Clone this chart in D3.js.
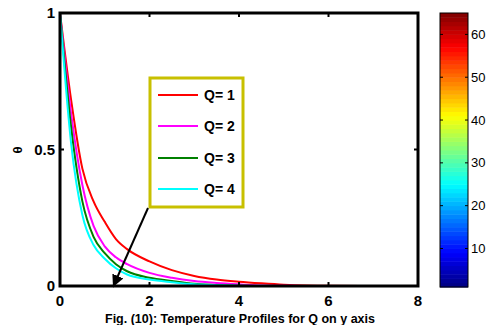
<!DOCTYPE html>
<html>
<head>
<meta charset="utf-8">
<script src="https://cdn.jsdelivr.net/npm/d3@7"></script>
<style>
  body { margin: 0; background: #fff; }
  text { font-family: "Liberation Sans", Arial, sans-serif; }
</style>
</head>
<body>
<svg id="chart" width="487" height="325"></svg>
<script>
// eta positions shared by all curves
const eta = [0, 0.25, 0.5, 0.75, 1, 1.25, 1.5, 2, 2.5, 3, 3.5, 4, 4.5, 5, 5.5, 6, 7, 8];

const seriesNames = ['Q= 1', 'Q= 2', 'Q= 3', 'Q= 4'];
const seriesColors = ['#ff0000', '#ff00ff', '#008000', '#00ffff'];
const theta = [
  [1, 0.68, 0.43, 0.31, 0.235, 0.172, 0.135, 0.09, 0.058, 0.037, 0.024, 0.016, 0.01, 0.005, 0.002, 0.001, 0, 0],
  [1, 0.63, 0.37, 0.22, 0.145, 0.105, 0.08, 0.048, 0.03, 0.018, 0.011, 0.006, 0.002, 0.001, 0, 0, 0, 0],
  [1, 0.58, 0.31, 0.18, 0.12, 0.08, 0.054, 0.03, 0.018, 0.008, 0.004, 0.001, 0, 0, 0, 0, 0, 0],
  [1, 0.52, 0.26, 0.15, 0.1, 0.065, 0.042, 0.024, 0.014, 0.006, 0.003, 0.001, 0, 0, 0, 0, 0, 0]
];

const xTicks = [0, 2, 4, 6, 8];
const yTicks = [0, 0.5, 1];
const yTickLabels = ['0', '0.5', '1'];
const cbarTicks = [10, 20, 30, 40, 50, 60];
const cbarRange = [1, 65];

const svg = d3.select('#chart');

const x = d3.scaleLinear().domain([0, 8]).range([60, 418]);
const y = d3.scaleLinear().domain([0, 1]).range([286, 13]);

// curves
const line = d3.line()
  .x((d) => x(d[0]))
  .y((d) => y(d[1]))
  .curve(d3.curveMonotoneX);

theta.forEach((vals, i) => {
  svg.append('path')
    .datum(eta.map((e, j) => [e, vals[j]]))
    .attr('d', line)
    .attr('fill', 'none')
    .attr('stroke', seriesColors[i])
    .attr('stroke-width', 2);
});

// axes box
svg.append('rect')
  .attr('x', x(0)).attr('y', y(1))
  .attr('width', x(8) - x(0)).attr('height', y(0) - y(1))
  .attr('fill', 'none')
  .attr('stroke', '#000')
  .attr('stroke-width', 3);

// inward ticks
xTicks.forEach((t) => {
  svg.append('line').attr('x1', x(t)).attr('x2', x(t))
    .attr('y1', y(0)).attr('y2', y(0) - 4).attr('stroke', '#000').attr('stroke-width', 2);
  svg.append('line').attr('x1', x(t)).attr('x2', x(t))
    .attr('y1', y(1)).attr('y2', y(1) + 4).attr('stroke', '#000').attr('stroke-width', 2);
  svg.append('text')
    .attr('x', x(t)).attr('y', 306)
    .attr('text-anchor', 'middle')
    .attr('font-size', 15).attr('font-weight', 'bold')
    .text(t);
});

yTicks.forEach((t, i) => {
  svg.append('line').attr('x1', x(0)).attr('x2', x(0) + 4)
    .attr('y1', y(t)).attr('y2', y(t)).attr('stroke', '#000').attr('stroke-width', 2);
  svg.append('line').attr('x1', x(8)).attr('x2', x(8) - 4)
    .attr('y1', y(t)).attr('y2', y(t)).attr('stroke', '#000').attr('stroke-width', 2);
  svg.append('text')
    .attr('x', 55).attr('y', y(t) + 5)
    .attr('text-anchor', 'end')
    .attr('font-size', 15).attr('font-weight', 'bold')
    .text(yTickLabels[i]);
});

// y label
svg.append('text')
  .attr('transform', 'translate(22,150) rotate(-90)')
  .attr('text-anchor', 'middle')
  .attr('font-size', 13).attr('font-weight', 'bold')
  .attr('font-family', 'DejaVu Sans')
  .text('θ');

// caption (sits at the bottom edge, as in the figure)
svg.append('text')
  .attr('x', 240).attr('y', 323)
  .attr('text-anchor', 'middle')
  .attr('font-size', 12.5).attr('font-weight', 'bold')
  .text('Fig. (10): Temperature Profiles for Q on y axis');

// legend
const legend = svg.append('g');
legend.append('rect')
  .attr('x', 150).attr('y', 78).attr('width', 93).attr('height', 129)
  .attr('fill', '#fff')
  .attr('stroke', '#c8c000')
  .attr('stroke-width', 3);
const legendY = [95, 126, 158, 189];
seriesNames.forEach((name, i) => {
  legend.append('line')
    .attr('x1', 158).attr('x2', 198)
    .attr('y1', legendY[i]).attr('y2', legendY[i])
    .attr('stroke', seriesColors[i]).attr('stroke-width', 2);
  legend.append('text')
    .attr('x', 204).attr('y', legendY[i] + 5)
    .attr('font-size', 14).attr('font-weight', 'bold')
    .text(name);
});

// arrow
svg.append('defs').append('marker')
  .attr('id', 'head')
  .attr('viewBox', '0 0 10 10')
  .attr('refX', 10).attr('refY', 5)
  .attr('markerWidth', 12).attr('markerHeight', 12)
  .attr('markerUnits', 'userSpaceOnUse')
  .attr('orient', 'auto')
  .append('path')
  .attr('d', 'M0,0 L10,5 L0,10 Z')
  .attr('fill', '#000');
svg.append('line')
  .attr('x1', 148).attr('y1', 208)
  .attr('x2', 113).attr('y2', 287)
  .attr('stroke', '#000').attr('stroke-width', 2)
  .attr('marker-end', 'url(#head)');

// colorbar (jet)
function jet(t) {
  const r = Math.max(0, Math.min(1, Math.min(4 * t - 1.5, -4 * t + 4.5)));
  const g = Math.max(0, Math.min(1, Math.min(4 * t - 0.5, -4 * t + 3.5)));
  const b = Math.max(0, Math.min(1, Math.min(4 * t + 0.5, -4 * t + 2.5)));
  return d3.rgb(r * 255, g * 255, b * 255).toString();
}
const cy = d3.scaleLinear().domain(cbarRange).range([287, 13]);
const cb = svg.append('g');
const nColors = 64;
d3.range(nColors).forEach((k) => {
  const v0 = cbarRange[0] + k;
  cb.append('rect')
    .attr('x', 440).attr('width', 28)
    .attr('y', cy(v0 + 1)).attr('height', cy(v0) - cy(v0 + 1) + 0.5)
    .attr('fill', jet((k + 0.5) / nColors));
});
cb.append('rect')
  .attr('x', 440).attr('y', 13).attr('width', 28).attr('height', 274)
  .attr('fill', 'none').attr('stroke', '#000').attr('stroke-width', 1);
cbarTicks.forEach((t) => {
  cb.append('line').attr('x1', 468).attr('x2', 465)
    .attr('y1', cy(t)).attr('y2', cy(t)).attr('stroke', '#000');
  cb.append('line').attr('x1', 440).attr('x2', 443)
    .attr('y1', cy(t)).attr('y2', cy(t)).attr('stroke', '#000');
  cb.append('text')
    .attr('x', 471).attr('y', cy(t) + 4.5)
    .attr('font-size', 13)
    .text(t);
});
</script>
</body>
</html>
